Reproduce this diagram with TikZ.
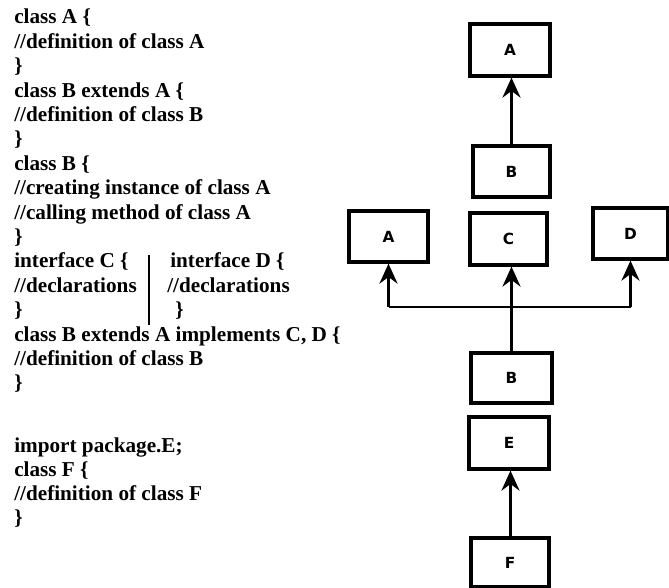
\documentclass[tikz,border=0pt]{standalone}
\usepackage{fontspec}
\setmainfont{Liberation Serif}
\newfontfamily\boxfont{DejaVu Sans}
\usetikzlibrary{arrows.meta}

\begin{document}
\begin{tikzpicture}[x=0.75pt,y=-0.75pt,
  code/.style={anchor=base west,inner sep=0pt,font=\bfseries\fontsize{15.9pt}{18pt}\selectfont},
  cls/.style={draw,line width=2.4pt,inner sep=0pt,font=\boxfont\bfseries\fontsize{11.5pt}{13pt}\selectfont},
  arr/.style={line width=2.2pt,-{Stealth[length=15pt,width=13.5pt,inset=5pt]}},
  link/.style={line width=2.2pt}]
\useasboundingbox (0,0) rectangle (669,588);

% source listing
\node[code] (l1)  at (14,24)  {class A \{};
\node[code] (l2)  at (14,48.4)  {//definition of class A};
\node[code] (l3)  at (14,72.8)  {\}};
\node[code] (l4)  at (14,97.2)  {class B extends A \{};
\node[code] (l5)  at (14,121.6) {//definition of class B};
\node[code] (l6)  at (14,146)   {\}};
\node[code] (l7)  at (14,170.4) {class B \{};
\node[code] (l8)  at (14,194.8) {//creating instance of class A};
\node[code] (l9)  at (14,219.2) {//calling method of class A};
\node[code] (l10) at (14,243.6) {\}};
\node[code] (l11) at (14,268)   {interface C \{};
\node[code] (l12) at (14,292.4) {//declarations};
\node[code] (l13) at (14,316.8) {\}};
\node[code] (r11) at (170,268)  {interface D \{};
\node[code] (r12) at (167,292.4){//declarations};
\node[code] (r13) at (175,316.8){\}};
\coordinate (sepT) at (149,255);
\coordinate (sepB) at (149,325);
\draw[line width=1.2pt] (sepT) -- (sepB);
\node[code] (l14) at (14,341.2) {class B extends A implements C, D \{};
\node[code] (l15) at (14,365.6) {//definition of class B};
\node[code] (l16) at (14,390)   {\}};
\node[code] (l17) at (14,453)   {import package.E;};
\node[code] (l18) at (14,477)   {class F \{};
\node[code] (l19) at (14,501)   {//definition of class F};
\node[code] (l20) at (14,525)   {\}};

% class boxes
\node[cls,minimum width=60pt,minimum height=39pt]     (A1) at (510,50)      {A};
\node[cls,minimum width=57.75pt,minimum height=38.25pt] (B1) at (511.5,171.5) {B};
\node[cls,minimum width=59.25pt,minimum height=38.25pt] (A2) at (388.5,236.5) {A};
\node[cls,minimum width=57.75pt,minimum height=39pt]  (C)  at (508.5,239)   {C};
\node[cls,minimum width=56.25pt,minimum height=38.25pt] (D)  at (630.5,233.5) {D};
\node[cls,minimum width=60.75pt,minimum height=37.5pt]  (B2) at (511.5,378)   {B};
\node[cls,minimum width=60pt,minimum height=39pt]     (E)  at (509,443)     {E};
\node[cls,minimum width=58.5pt,minimum height=36.75pt]  (F)  at (510,562.5)   {F};

% inheritance arrows
\draw[arr] (B1.north -| 511.5,0) -- (A1.south -| 511.5,0);
\coordinate (j) at (512,307);
\draw[arr] (B2.north) -- (B2.north |- C.south);
\draw[link] (j -| A2.south) -- (j -| D.south);
\draw[arr] (j -| A2.south) -- (A2.south);
\draw[arr] (j -| D.south) -- (D.south);
\draw[arr] (F.north -| 510.5,0) -- (E.south -| 510.5,0);
\end{tikzpicture}
\end{document}
